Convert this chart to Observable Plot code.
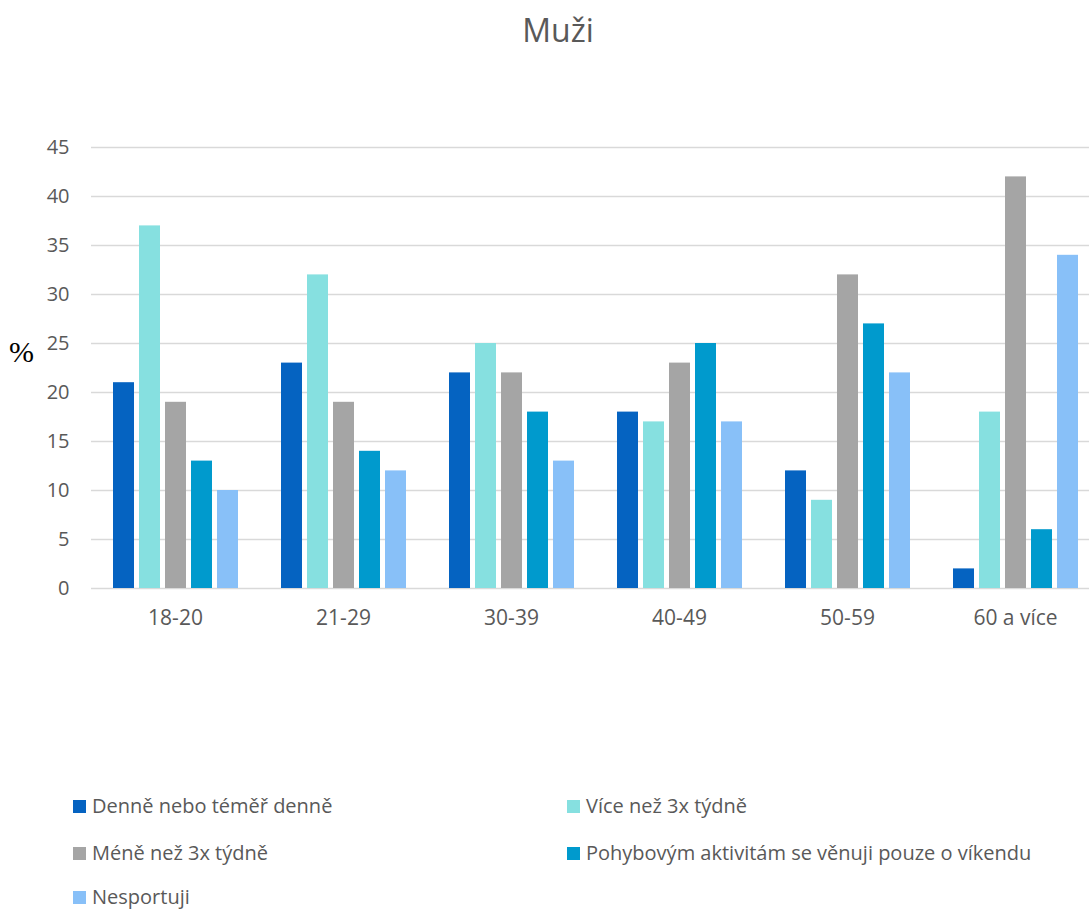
<!DOCTYPE html>
<html>
<head>
<meta charset="utf-8">
<script src="https://cdn.jsdelivr.net/npm/d3@7"></script>
<script src="https://cdn.jsdelivr.net/npm/@observablehq/plot@0.6"></script>
<style>
  html, body { margin: 0; padding: 0; background: #fff; overflow: hidden; }
  #wrap { position: relative; width: 1089px; height: 909px; overflow: hidden; font-family: "Open Sans", sans-serif; color: #595959; }
  #title { position: absolute; left: 0; width: 1116px; top: 8px; text-align: center; font-size: 32px; line-height: 44px; }
  #unit { position: absolute; left: 9px; top: 334px; font-family: "Liberation Serif", serif; font-size: 30px; line-height: 36px; color: #000; }
  #chart { position: absolute; left: 0; top: 0; width: 1089px; overflow: hidden; }
  #chart svg { overflow: hidden; }
  .leg { position: absolute; font-size: 20px; line-height: 26px; white-space: nowrap; }
  .leg i { display: inline-block; width: 13px; height: 13px; margin-right: 6px; vertical-align: 0px; }
</style>
</head>
<body>
<div id="wrap">
  <div id="chart"></div>
  <div id="title">Muži</div>
  <div id="unit">%</div>
  <div id="legend"></div>
</div>
<script>
// Age groups (categories along the axis)
const groups = ["18-20", "21-29", "30-39", "40-49", "50-59", "60 a více"];

// Frequency of sport / physical activity (series)
const series = [
  "Denně nebo téměř denně",
  "Více než 3x týdně",
  "Méně než 3x týdně",
  "Pohybovým aktivitám se věnuji pouze o víkendu",
  "Nesportuji"
];

const colors = ["#0563C1", "#86E0E0", "#A5A5A5", "#009ACD", "#88C0F8"];

// Percentages per series, in the order of the age groups
const denne      = [21, 23, 22, 18, 12, 2];
const vice3x     = [37, 32, 25, 17, 9, 18];
const mene3x     = [19, 19, 22, 23, 32, 42];
const vikend     = [13, 14, 18, 25, 27, 6];
const nesportuji = [10, 12, 13, 17, 22, 34];

const yTicks = [0, 5, 10, 15, 20, 25, 30, 35, 40, 45];

const valuesBySeries = [denne, vice3x, mene3x, vikend, nesportuji];
const data = [];
groups.forEach((g, gi) => {
  series.forEach((s, si) => {
    data.push({ group: g, series: s, value: valuesBySeries[si][gi] });
  });
});

// The last age group runs slightly past the right edge, so the x range
// extends beyond the SVG width (negative right margin) and is clipped.
const chart = Plot.plot({
  width: 1089,
  height: 660,
  marginLeft: 91,
  marginRight: -10,
  marginTop: 147,
  marginBottom: 72,
  style: { fontFamily: "'Open Sans', sans-serif", fontSize: "20px", color: "#595959", background: "transparent", overflow: "hidden" },
  fx: { domain: groups, padding: 0, label: null },
  x: { domain: series, paddingInner: 0.21, paddingOuter: 0.835, axis: null },
  y: { domain: [0, 45], label: null },
  color: { domain: series, range: colors },
  marks: [
    Plot.ruleY(yTicks, { stroke: "#D9D9D9", strokeWidth: 1.5 }),
    Plot.barY(data, { fx: "group", x: "series", y: "value", fill: "series" }),
    Plot.axisY({ ticks: yTicks, tickSize: 0, tickPadding: 22, label: null, fontSize: 20 }),
    Plot.axisFx({ anchor: "bottom", tickSize: 0, tickPadding: 22, label: null, fontSize: 21 })
  ]
});
document.getElementById("chart").appendChild(chart);

// Legend: two columns, rows filled left to right
const legend = document.getElementById("legend");
const legX = [73, 567];
const legY = [793, 840, 884];
series.forEach((s, i) => {
  const el = document.createElement("div");
  el.className = "leg";
  el.style.left = legX[i % 2] + "px";
  el.style.top = legY[Math.floor(i / 2)] + "px";
  const sw = document.createElement("i");
  sw.style.background = colors[i];
  el.appendChild(sw);
  el.appendChild(document.createTextNode(s));
  legend.appendChild(el);
});
</script>
</body>
</html>
